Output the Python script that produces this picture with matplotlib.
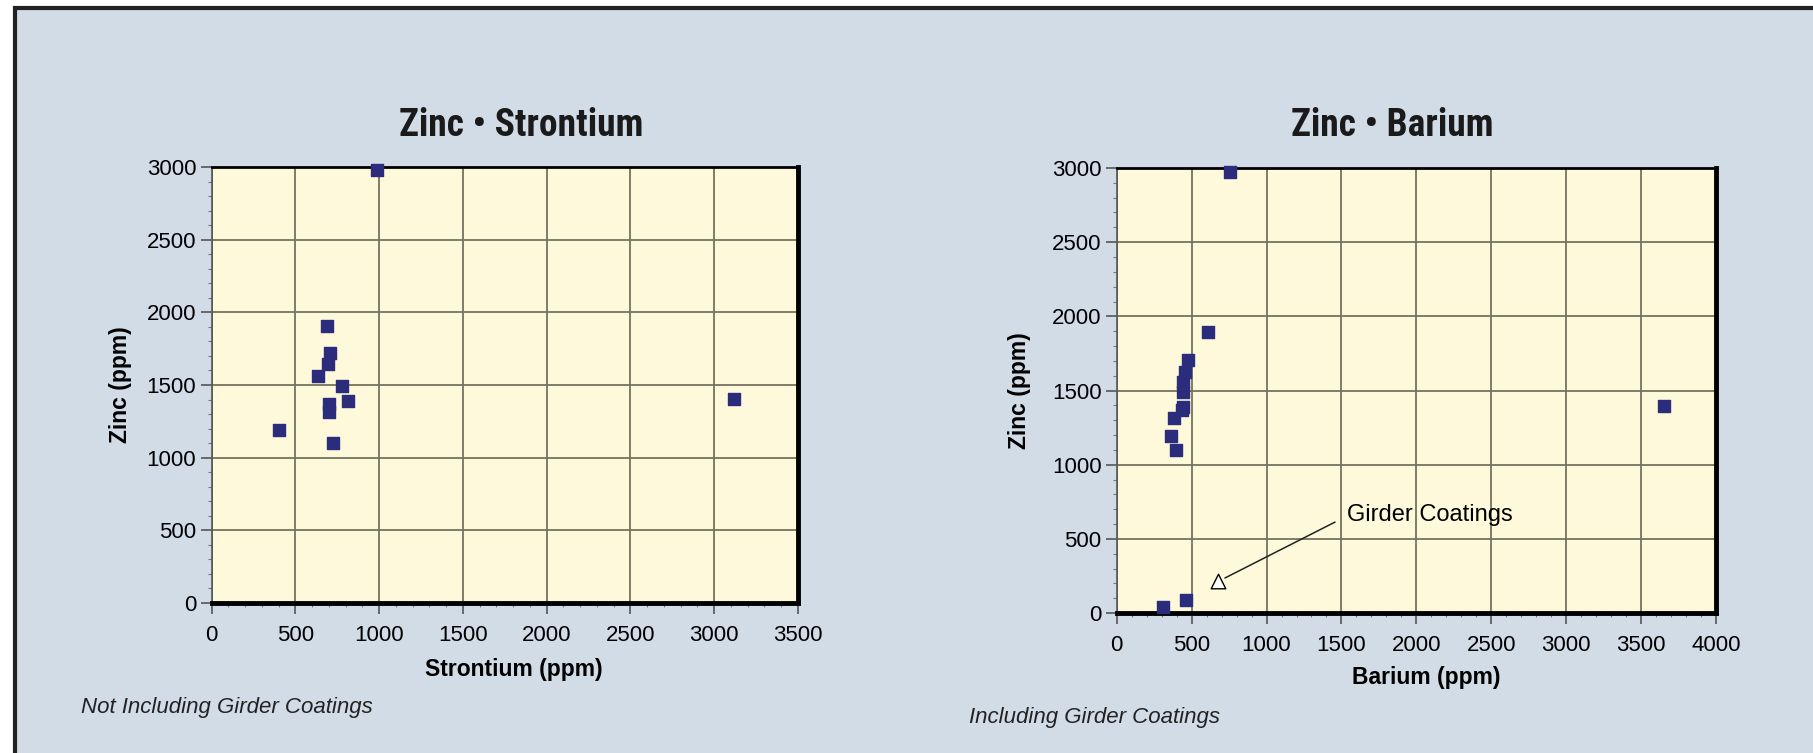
import numpy as np
import matplotlib.pyplot as plt
from matplotlib.patches import Rectangle
from matplotlib.ticker import MultipleLocator

# 数据：左图 锶-锌，右图 钡-锌
strontium = [990, 690, 706, 693, 637, 780, 816, 702, 700, 402, 726, 3120]
zinc_sr = [2980, 1905, 1717, 1648, 1561, 1492, 1391, 1369, 1316, 1190, 1098, 1401]

barium = [754, 611, 477, 455, 444, 444, 440, 435, 382, 360, 395, 3655, 306, 460]
zinc_ba = [2975, 1893, 1706, 1627, 1560, 1492, 1391, 1369, 1316, 1190, 1098, 1396, 42, 88]

girder_ba = [678]
girder_zn = [218]

sr_ticks = np.arange(0, 3501, 500)
ba_ticks = np.arange(0, 4001, 500)
zn_ticks = np.arange(0, 3001, 500)

bg = '#d1dce7'
face = '#fff9dc'
navy = '#2b2d7c'
sans = ['Liberation Sans', 'DejaVu Sans']

fig = plt.figure(figsize=(18.13, 7.53), dpi=100)
fig.patch.set_facecolor('white')
fig.patches.append(Rectangle((15 / 1813, -0.1), 1.1, 1.1 - 8 / 753, transform=fig.transFigure,
                             facecolor=bg, edgecolor='#222222', linewidth=3, zorder=-5))


def style_axes(ax, xticks, xlabel):
    ax.set_facecolor(face)
    ax.set_xlim(xticks[0], xticks[-1])
    ax.set_ylim(0, 3000)
    ax.set_xticks(xticks)
    ax.set_yticks(zn_ticks)
    ax.xaxis.set_minor_locator(MultipleLocator(100))
    ax.yaxis.set_minor_locator(MultipleLocator(100))
    ax.grid(True, which='major', color='#75725f', linewidth=1.3)
    ax.set_axisbelow(True)
    ax.tick_params(which='major', direction='out', length=8, width=1.2, color='#555555',
                   labelsize=16)
    ax.tick_params(axis='x', which='major', pad=8)
    ax.tick_params(axis='y', which='major', pad=3)
    ax.tick_params(which='minor', direction='out', length=3, width=0.8, color='#777777')
    for lab in ax.get_xticklabels() + ax.get_yticklabels():
        lab.set_family(sans)
    ax.spines['top'].set_linewidth(2)
    ax.spines['left'].set_linewidth(1.2)
    ax.spines['left'].set_color('#555555')
    ax.spines['bottom'].set_linewidth(3.5)
    ax.spines['right'].set_linewidth(3.5)
    ax.set_xlabel(xlabel, fontsize=16.5, fontweight='bold', family=sans)
    ax.set_ylabel('Zinc (ppm)', fontsize=16.5, fontweight='bold', family=sans)


# 左图
ax1 = fig.add_axes([0.1167, 0.1992, 0.3234, 0.5790])
style_axes(ax1, sr_ticks, 'Strontium (ppm)')
ax1.xaxis.set_label_coords(0.516, -0.126)
ax1.yaxis.set_label_coords(-0.135, 0.5)
ax1.scatter(strontium, zinc_sr, s=80, marker='s', color=navy, zorder=3, clip_on=False)

# 右图
ax2 = fig.add_axes([0.6160, 0.1859, 0.3304, 0.5910])
style_axes(ax2, ba_ticks, 'Barium (ppm)')
ax2.xaxis.set_label_coords(0.516, -0.119)
ax2.yaxis.set_label_coords(-0.143, 0.5)
ax2.scatter(barium, zinc_ba, s=80, marker='s', color=navy, zorder=3, clip_on=False)
ax2.scatter(girder_ba, girder_zn, s=110, marker='^', facecolor='white', edgecolor='black',
            linewidth=1, zorder=4)
# 标注
ax2.text(1537, 661, 'Girder Coatings', fontsize=17, family=sans, va='center', ha='left')
ax2.annotate('', xy=(722, 236), xytext=(1457, 613),
             arrowprops=dict(arrowstyle='-', color='#222222', lw=1.1, shrinkA=0, shrinkB=0))

# 标题
title_font = ['Roboto Condensed', 'Open Sans Condensed', 'Lato', 'DejaVu Sans']
fig.text(521 / 1813, 1 - 125 / 753, 'Zinc • Strontium', ha='center', va='center',
         fontsize=27, fontweight='heavy', family=title_font, color='#1a1a1a')
fig.text(1392 / 1813, 1 - 125 / 753, 'Zinc • Barium', ha='center', va='center',
         fontsize=27, fontweight='heavy', family=title_font, color='#1a1a1a')

# 说明文字
fig.text(81 / 1813, 1 - 708 / 753, 'Not Including Girder Coatings', ha='left', va='center',
         fontsize=16, style='italic', family=sans, color='#222222')
fig.text(969 / 1813, 1 - 718 / 753, 'Including Girder Coatings', ha='left', va='center',
         fontsize=16, style='italic', family=sans, color='#222222')

plt.savefig('out.png', dpi=100, facecolor=fig.get_facecolor())
